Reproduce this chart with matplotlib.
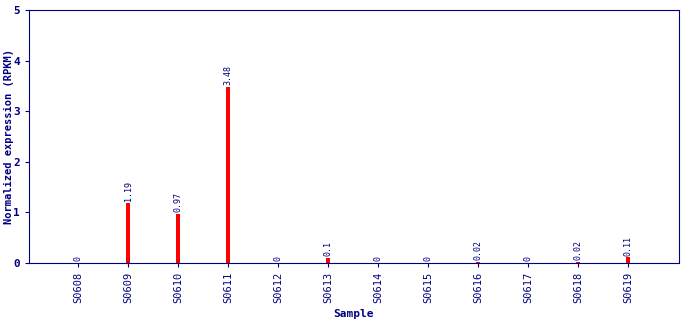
import matplotlib
matplotlib.use("Agg")
import matplotlib.pyplot as plt

samples = ["S0608", "S0609", "S0610", "S0611", "S0612", "S0613",
           "S0614", "S0615", "S0616", "S0617", "S0618", "S0619"]
values = [0, 1.19, 0.97, 3.48, 0, 0.1, 0, 0, 0.02, 0, 0.02, 0.11]
labels = ["0", "1.19", "0.97", "3.48", "0", "0.1", "0", "0", "0.02", "0", "0.02", "0.11"]

navy = "#000080"
plt.rcParams["font.family"] = "DejaVu Sans Mono"

fig = plt.figure(figsize=(6.9, 3.2), dpi=100)
ax = fig.add_axes([29 / 690, 57 / 320, 650 / 690, 253 / 320])

x = list(range(len(samples)))
ax.bar(x, values, width=0.09, color="red")
for i, (v, lab) in enumerate(zip(values, labels)):
    ax.text(i, v + 0.03, lab, rotation=90, ha="center", va="bottom",
            fontsize=6, color=navy)

ax.set_xlim(-0.98, 12.02)
ax.set_ylim(0, 5)
ax.set_xticks(x)
ax.set_xticklabels(samples, rotation=90, fontsize=7.5, color=navy)
ax.set_yticks(range(6))
ax.set_yticklabels([str(i) for i in range(6)], fontsize=8, color=navy,
                   fontweight="bold")
ax.tick_params(axis="both", colors=navy, length=3, width=0.8)
for s in ax.spines.values():
    s.set_color(navy)
ax.set_xlabel("Sample", fontsize=8, color=navy, fontweight="bold")
ax.set_ylabel("Normalized expression (RPKM)", fontsize=7.5, color=navy,
              fontweight="bold")
ax.yaxis.set_label_coords(-0.023, 0.5)

fig.savefig("out.png")
